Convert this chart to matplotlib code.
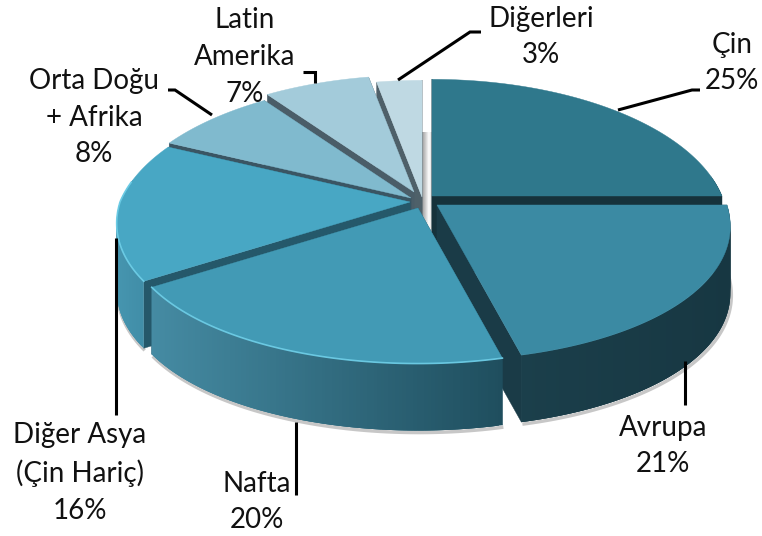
import numpy as np
import matplotlib
matplotlib.use("Agg")
import matplotlib.pyplot as plt
from matplotlib.collections import PolyCollection
from matplotlib.colors import LinearSegmentedColormap, to_rgb

# ---- data (clockwise from 12 o'clock) ----
categories = ["Çin", "Avrupa", "Nafta", "Diğer Asya\n(Çin Hariç)",
              "Orta Doğu\n+ Afrika", "Latin\nAmerika", "Diğerleri"]
shares = [25, 21, 20, 16, 8, 7, 3]

# ---- styles ----
top_colors = ["#2f788c", "#3b8aa3", "#429ab5", "#48a7c4", "#80bace", "#a3cbda", "#bfd9e3"]
cut_colors = ["#16323b", "#1a3b47", "#1e4c5c", "#25586a", "#3a5563", "#4a5d68", "#4e6069"]
side_left = ["#16323b", "#1b3f4b", "#458ba3", "#4695af", "#4a7f91", "#4a7f91", "#4a7f91"]
side_right = ["#16323b", "#173742", "#1f4e5e", "#3c87a1", "#4a7f91", "#4a7f91", "#4a7f91"]
apex = [(432, 196), (437, 205), (418, 208), (410, 202), (411, 198), (414, 192), (422, 197)]
paint_order = [0, 1, 6, 5, 4, 3, 2]
label_pos = [(732, 63), (663, 446), (257, 502), (80, 473), (94, 118), (245, 57), (541, 37)]
leaders = [[(618, 110), (692, 90), (700, 90)],
           [(685, 361), (685, 405)],
           [(296, 422), (296, 495)],
           [(116, 238), (116, 415)],
           [(212, 115), (175, 90), (168, 90)],
           [(315, 83), (315, 72), (303, 72)],
           [(398, 80), (470, 32), (481, 32)]]
RX, RY, DEPTH = 290.0, 140.0, 67.0

plt.rcParams["font.family"] = ["Lato", "DejaVu Sans"]
fig = plt.figure(figsize=(7.62, 5.36), dpi=100, facecolor="white")
ax = fig.add_axes([0, 0, 1, 1])
ax.set_xlim(0, 762)
ax.set_ylim(536, 0)
ax.axis("off")


def project(theta, centre):
    u, v = np.sin(theta), np.cos(theta)
    fx = np.where(v > 0, 1 + 0.2 * v, 1 + 0.15 * v)
    fy = np.where(v > 0, 1 + 0.2 * v, 1 + 0.1 * v)
    return centre[0] + RX * u / fx, centre[1] - RY * v / fy


# soft grey strip behind the central gap
grey = LinearSegmentedColormap.from_list("g", ["#9c9c9c", "#ffffff", "#a8a8a8"])
ax.imshow(np.linspace(0, 1, 32)[None, :], cmap=grey, extent=(422, 436, 240, 132),
          aspect="auto", zorder=1)
ax.set_xlim(0, 762)
ax.set_ylim(536, 0)

edges = np.cumsum([0] + shares) / sum(shares) * 2 * np.pi
z = 2
for i in paint_order:
    c = apex[i]
    th = np.linspace(edges[i], edges[i + 1], 120)
    x, y = project(th, c)

    # soft shadow under the rim
    front = np.cos(th) < 0.15
    if front.any():
        ax.plot(x[front] + 1, y[front] + DEPTH + 2, color="#9a9a9a", lw=2.5, alpha=0.55,
                zorder=z, solid_capstyle="butt")
    z += 1

    # cut faces
    for xe, ye in ((x[0], y[0]), (x[-1], y[-1])):
        ax.fill([c[0], xe, xe, c[0]], [c[1], ye, ye + DEPTH, c[1] + DEPTH],
                color=cut_colors[i], lw=0.3, zorder=z)
    z += 1

    # outer rim with horizontal gradient, only where it faces the viewer
    a, b = np.array(to_rgb(side_left[i])), np.array(to_rgb(side_right[i]))
    quads, cols = [], []
    span = max(x.max() - x.min(), 1)
    for k in range(len(th) - 1):
        if not front[k]:
            continue
        e = min(k + 3, len(th) - 1)
        quads.append([(x[k], y[k]), (x[e], y[e]),
                      (x[e], y[e] + DEPTH), (x[k], y[k] + DEPTH)])
        t = (0.5 * (x[k] + x[k + 1]) - x.min()) / span
        cols.append(a + (b - a) * t)
    if quads:
        ax.add_collection(PolyCollection(quads, facecolors=cols, edgecolors="none",
                                         linewidths=0, zorder=z))
    z += 1

    # top face
    ax.fill(np.r_[c[0], x], np.r_[c[1], y], color=top_colors[i], lw=0.3, zorder=z)
    z += 1
    if i in (2, 3):
        ax.plot(x[front], y[front], color="#6fcfe8", lw=1.2, alpha=0.9, zorder=z)
        z += 1

for pts in leaders:
    px, py = zip(*pts)
    ax.plot(px, py, color="black", lw=2.2, zorder=200, solid_capstyle="butt", solid_joinstyle="miter")

for name, val, (lx, ly) in zip(categories, shares, label_pos):
    ax.text(lx, ly, f"{name}\n{val}%", ha="center", va="center", fontsize=20,
            linespacing=1.5, color="#111111", zorder=300)

fig.savefig("out.png", dpi=100, facecolor="white")
